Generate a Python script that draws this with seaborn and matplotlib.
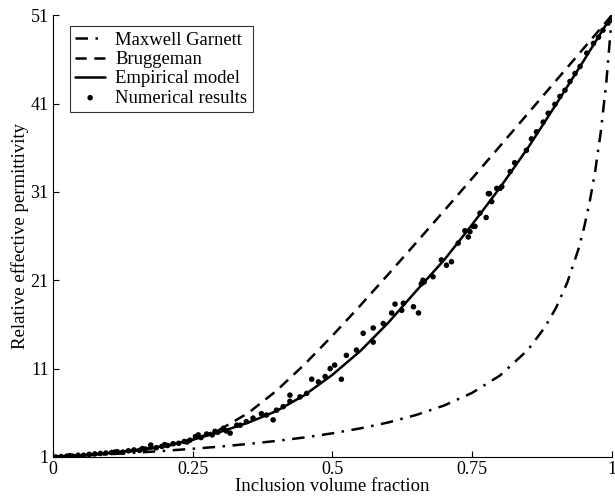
import matplotlib
matplotlib.use("Agg")
import matplotlib.pyplot as plt
import seaborn as sns
import pandas as pd

# ---- data ----
f_grid = [0.0, 0.05, 0.10, 0.15, 0.20, 0.25, 0.30, 0.35, 0.40, 0.45, 0.50,
          0.55, 0.60, 0.65, 0.70, 0.75, 0.80, 0.85, 0.90, 0.95, 1.0]

bruggeman = [1.0, 1.16, 1.39, 1.71, 2.18, 2.94, 4.15, 6.0, 8.5, 11.47, 14.73,
             18.15, 21.68, 25.26, 28.88, 32.53, 36.2, 39.89, 43.59, 47.29, 51.0]

empirical = [1.0, 1.2, 1.45, 1.8, 2.25, 2.95, 3.85, 4.9, 6.2, 8.0, 10.3,
             13.0, 16.2, 19.8, 23.3, 27.3, 31.5, 36.0, 40.9, 45.9, 51.0]

f_mg = [0.0, 0.05, 0.10, 0.15, 0.20, 0.25, 0.30, 0.35, 0.40, 0.45, 0.50,
        0.55, 0.60, 0.65, 0.70, 0.75, 0.80, 0.85, 0.88, 0.90, 0.92, 0.94,
        0.95, 0.96, 0.97, 0.98, 0.99, 1.0]
maxwell_garnett = [1.0, 1.15, 1.31, 1.49, 1.70, 1.93, 2.18, 2.48, 2.82, 3.21,
                   3.68, 4.24, 4.91, 5.76, 6.83, 8.26, 10.23, 13.14, 15.67,
                   17.88, 20.71, 24.5, 26.91, 29.8, 33.33, 37.75, 43.43, 51.0]

num_x = [0.005, 0.015, 0.025, 0.03, 0.035, 0.045, 0.055, 0.065, 0.075, 0.085,
         0.095, 0.105, 0.11, 0.115, 0.125, 0.135, 0.145, 0.155, 0.16, 0.165,
         0.175, 0.185, 0.195, 0.20, 0.205, 0.215, 0.225, 0.235, 0.24, 0.245,
         0.255, 0.26, 0.265, 0.275, 0.285, 0.29, 0.295, 0.305, 0.31, 0.317,
         0.329, 0.335, 0.346, 0.358, 0.373, 0.382, 0.394, 0.400, 0.412,
         0.424, 0.424, 0.442, 0.454, 0.463, 0.475, 0.487, 0.496, 0.504,
         0.516, 0.525, 0.543, 0.555, 0.573, 0.573, 0.591, 0.606, 0.612,
         0.624, 0.627, 0.645, 0.654, 0.659, 0.662, 0.664, 0.680, 0.695,
         0.704, 0.713, 0.725, 0.737, 0.743, 0.746, 0.752, 0.755, 0.764,
         0.775, 0.779, 0.781, 0.785, 0.794, 0.80, 0.803, 0.818, 0.826,
         0.847, 0.856, 0.865, 0.877, 0.886, 0.898, 0.907, 0.916, 0.925,
         0.934, 0.943, 0.955, 0.967, 0.976, 0.984, 0.993]
num_y = [1.0, 1.05, 1.1, 1.15, 1.1, 1.2, 1.2, 1.3, 1.35, 1.4,
         1.45, 1.5, 1.55, 1.6, 1.55, 1.7, 1.8, 1.75, 1.95, 1.9,
         2.35, 2.05, 2.2, 2.4, 2.3, 2.5, 2.55, 2.75, 2.7, 2.9,
         3.3, 3.5, 3.2, 3.6, 3.5, 3.9, 3.8, 4.25, 3.95, 3.7,
         4.6, 4.6, 5.0, 5.4, 5.9, 5.75, 5.2, 6.3, 6.7,
         8.0, 7.3, 7.8, 8.2, 9.8, 9.5, 10.1, 11.0, 11.4,
         9.8, 12.5, 13.1, 15.0, 15.6, 14.0, 16.1, 17.3, 18.3,
         17.6, 18.4, 18.0, 17.3, 20.6, 21.0, 20.8, 21.4, 23.3,
         22.7, 23.1, 25.2, 26.6, 25.9, 26.5, 27.1, 27.1, 28.6,
         28.1, 30.8, 30.8, 29.9, 31.4, 31.4, 31.6, 33.3, 34.3,
         35.7, 37.0, 37.8, 38.9, 39.9, 40.9, 41.8, 42.5, 43.5,
         44.4, 45.2, 46.7, 47.8, 48.5, 49.3, 50.1]

x_ticks = [0, 0.25, 0.5, 0.75, 1]
x_tick_labels = ["0", "0.25", "0.5", "0.75", "1"]
y_ticks = [1, 11, 21, 31, 41, 51]

# ---- plot ----
sns.set_theme(style="ticks")
plt.rcParams["font.family"] = ["Liberation Serif", "DejaVu Serif"]
plt.rcParams["xtick.direction"] = "in"
plt.rcParams["ytick.direction"] = "in"

fig = plt.figure(figsize=(6.15, 4.97), dpi=100)
ax = fig.add_axes([0.086, 0.0805, 0.909, 0.889])

df_mg = pd.DataFrame({"f": f_mg, "eps": maxwell_garnett})
df_c = pd.DataFrame({"f": f_grid, "br": bruggeman, "emp": empirical})
df_n = pd.DataFrame({"f": num_x, "eps": num_y})

sns.lineplot(data=df_mg, x="f", y="eps", ax=ax, color="black", lw=1.8,
             linestyle=(0, (5, 3, 1, 3)), label="Maxwell Garnett")
sns.lineplot(data=df_c, x="f", y="br", ax=ax, color="black", lw=1.8,
             linestyle=(0, (4.5, 3)), label="Bruggeman")
sns.lineplot(data=df_c, x="f", y="emp", ax=ax, color="black", lw=1.8,
             linestyle="-", label="Empirical model")
sns.scatterplot(data=df_n, x="f", y="eps", ax=ax, color="black", s=16,
                edgecolor="none", label="Numerical results", zorder=5)

ax.set_xlim(0, 1)
ax.set_ylim(1, 51)
ax.set_xticks(x_ticks)
ax.set_xticklabels(x_tick_labels)
ax.set_yticks(y_ticks)
ax.tick_params(axis="both", labelsize=13, length=4, width=0.8, color="black",
               labelcolor="black", pad=3)
for s in ["top", "right"]:
    ax.spines[s].set_visible(False)
for s in ["left", "bottom"]:
    ax.spines[s].set_color("black")
    ax.spines[s].set_linewidth(0.8)

ax.set_xlabel("Inclusion volume fraction", fontsize=13.5, color="black", labelpad=0)
ax.set_ylabel("Relative effective permittivity", fontsize=13.5, color="black", labelpad=1)

leg = ax.legend(loc="upper left", bbox_to_anchor=(0.03, 0.975), borderaxespad=0,
                fontsize=13.4, frameon=True, fancybox=False, handlelength=1.6,
                handletextpad=0.55, labelspacing=0.12, borderpad=0.3)
leg.get_frame().set_edgecolor("black")
leg.get_frame().set_linewidth(0.8)
for t in leg.get_texts():
    t.set_color("black")

fig.savefig("out.png", dpi=100)
